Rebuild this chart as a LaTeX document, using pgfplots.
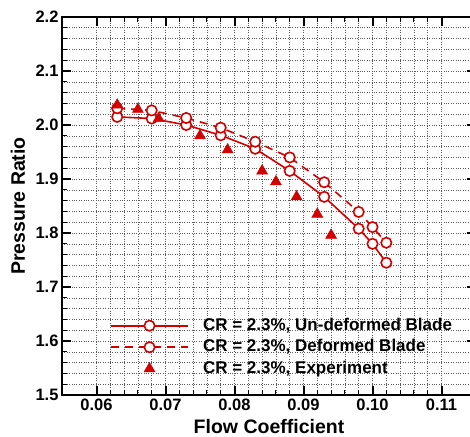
\documentclass[border=0pt]{standalone}
\usepackage{pgfplots}
\pgfplotsset{compat=1.18}
\usepackage{fontspec}
\setmainfont{Liberation Sans}
\definecolor{cred}{RGB}{212,0,0}
\begin{document}
\begin{tikzpicture}
\useasboundingbox (-62pt,-41pt) rectangle (408pt,395pt);
\begin{axis}[
  at={(0,0)}, anchor=south west,
  width=414pt, height=378pt, scale only axis,
  xmin=0.055, xmax=0.115, ymin=1.5, ymax=2.2,
  xtick={0.06,0.07,0.08,0.09,0.10,0.11},
  xticklabels={0.06,0.07,0.08,0.09,0.10,0.11},
  ytick={1.5,1.6,1.7,1.8,1.9,2.0,2.1,2.2},
  yticklabels={1.5,1.6,1.7,1.8,1.9,2.0,2.1,2.2},
  minor x tick num=4, minor y tick num=4,
  grid=both,
  major grid style={black!65, dotted, line width=0.6pt},
  minor grid style={black!65, dotted, line width=0.6pt},
  axis line style={line width=2pt},
  tick align=inside,
  major tick length=9pt, minor tick length=5pt,
  major tick style={black, line width=2pt},
  minor tick style={black, line width=1pt},
  ticklabel style={font=\fontsize{16.5}{18}\selectfont\bfseries},
  xlabel={Flow Coefficient}, ylabel={Pressure Ratio},
  label style={font=\fontsize{19.5}{22}\selectfont\bfseries},
  xlabel style={at={(axis description cs:0.5,0)}, anchor=base, yshift=-38pt},
  ylabel style={at={(axis description cs:0,0.5)}, anchor=center, rotate=0, yshift=44pt},
  legend image code/.code={\draw[mark repeat=2,mark phase=2,#1] plot coordinates {(0pt,0pt) (38.5pt,0pt) (77pt,0pt)};},
  legend style={at={(0.116,0.2123)}, anchor=north west, draw=none, fill=none,
    inner sep=0pt, column sep=12pt, row sep=0pt,
    font=\fontsize{17}{20}\selectfont\bfseries,
    nodes={inner sep=2.25pt, text height=13pt, text depth=4pt}},
  legend cell align=left,
]
\addplot[cred, line width=1.6pt, mark=*, mark size=5.2pt, mark options={solid, fill=white}]
  coordinates {(0.063,2.015)(0.068,2.012)(0.073,2.000)(0.078,1.981)(0.083,1.956)(0.088,1.915)(0.093,1.867)(0.098,1.808)(0.100,1.780)(0.102,1.745)};
\addlegendentry{CR = 2.3\%, Un-deformed Blade}
\addplot[cred, line width=1.6pt, dash pattern=on 8pt off 6pt, mark=*, mark size=5.2pt, mark options={solid, fill=white}]
  coordinates {(0.063,2.031)(0.068,2.027)(0.073,2.013)(0.078,1.995)(0.083,1.969)(0.088,1.940)(0.093,1.894)(0.098,1.839)(0.100,1.811)(0.102,1.782)};
\addlegendentry{CR = 2.3\%, Deformed Blade}
\addplot[cred, only marks, mark=triangle*, mark size=6.3pt, mark options={solid, fill=cred, line width=0.5pt}]
  coordinates {(0.063,2.037)(0.066,2.029)(0.069,2.012)(0.075,1.980)(0.079,1.954)(0.084,1.915)(0.086,1.895)(0.089,1.867)(0.092,1.835)(0.094,1.796)};
\addlegendentry{CR = 2.3\%, Experiment}
\end{axis}
\end{tikzpicture}
\end{document}
